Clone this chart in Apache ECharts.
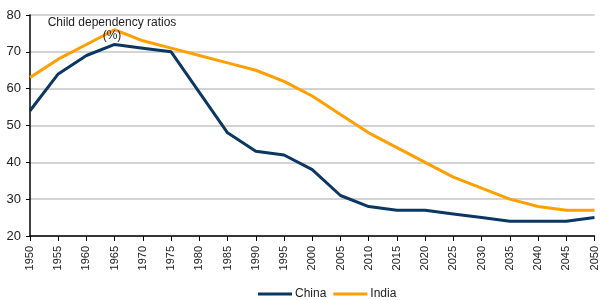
<!DOCTYPE html>
<html><head><meta charset="utf-8">
<script src="https://cdn.jsdelivr.net/npm/echarts@6/dist/echarts.min.js"></script>
<style>html,body{margin:0;padding:0;background:#fff}#c{width:600px;height:300px}</style>
</head><body><div id="c"></div>
<script>
var years = ['1950','1955','1960','1965','1970','1975','1980','1985','1990','1995','2000','2005','2010','2015','2020','2025','2030','2035','2040','2045','2050'];
var china = [54,64,69,72,71,70,59,48,43,42,38,31,28,27,27,26,25,24,24,24,25];
var india = [63,68,72,76,73,71,69,67,65,62,58,53,48,44,40,36,33,30,28,27,27];
var yTicks = {min:20, max:80, interval:10};
var font = 'Liberation Sans, Arial, sans-serif';
var chart = echarts.init(document.getElementById('c'));
chart.setOption({
  animation:false,
  title:{text:'Child dependency ratios\n(%)', left:107, top:11, textAlign:'center',
    textStyle:{fontFamily:font, fontSize:12, fontWeight:'normal', color:'#222', lineHeight:13}},
  grid:{left:30, right:4, top:15, bottom:64},
  legend:{top:283, left:253, itemWidth:34, itemHeight:3, itemGap:7, icon:'rect',
    textStyle:{fontFamily:font, fontSize:12, color:'#222', padding:[0,0,0,-2]}, data:['China','India']},
  xAxis:{type:'category', data:years, boundaryGap:false,
    axisLine:{lineStyle:{color:'#000', width:1.5}},
    axisTick:{show:true, length:5, lineStyle:{color:'#000'}},
    axisLabel:{rotate:90, fontFamily:font, fontSize:11, color:'#222', margin:10, interval:0}},
  yAxis:{type:'value', min:yTicks.min, max:yTicks.max, interval:yTicks.interval,
    axisLine:{show:true, lineStyle:{color:'#000', width:1.5}},
    axisTick:{show:true, length:4, lineStyle:{color:'#000'}},
    splitLine:{lineStyle:{color:'#c4c4c4', width:1.5}},
    axisLabel:{fontFamily:font, fontSize:13, color:'#222', margin:9}},
  series:[
    {name:'China', type:'line', data:china, symbol:'none', lineStyle:{color:'#0b3763', width:3}, itemStyle:{color:'#0b3763'}},
    {name:'India', type:'line', data:india, symbol:'none', lineStyle:{color:'#ff9f00', width:3}, itemStyle:{color:'#ff9f00'}}
  ]
});
</script></body></html>
